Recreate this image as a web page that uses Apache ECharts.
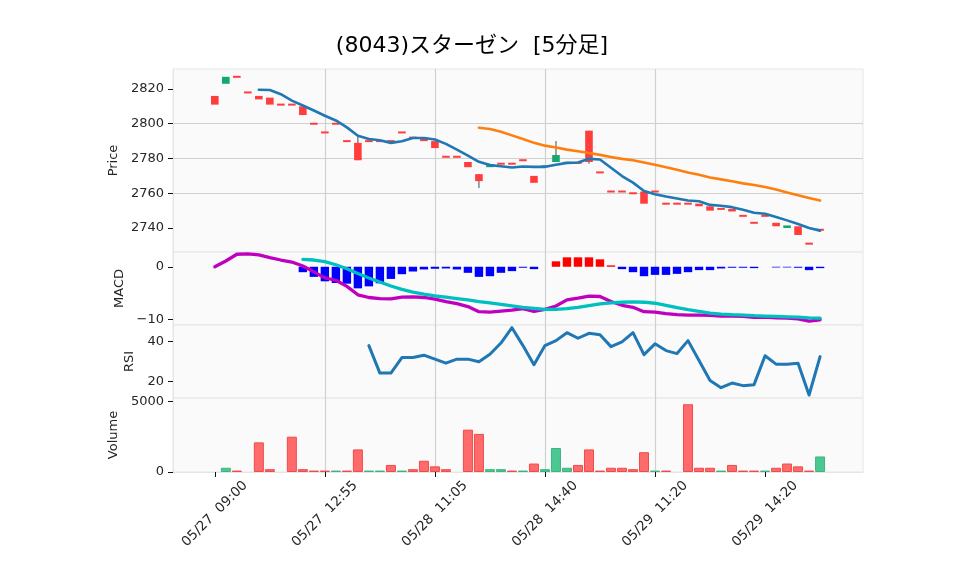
<!DOCTYPE html>
<html><head><meta charset="utf-8">
<script src="https://cdn.jsdelivr.net/npm/echarts@6/dist/echarts.min.js"></script>
<style>html,body{margin:0;padding:0;background:#fff}#c{width:958px;height:575px}</style>
</head><body><div id="c"></div>
<script>
const TITLE = '(8043)スターゼン  [5分足]';
const tickIndex = [0, 10, 20, 30, 40, 50];
const tickLabels = ['05/27  09:00', '05/27  12:55', '05/28  11:05', '05/28  14:40', '05/29  11:20', '05/29  14:20'];

const opens = [
  2811, 2827, 2827, 2818, 2814, 2811, 2811, 2811, 2805, 2800,
  2795, 2800, 2790, 2779, 2790, 2790, 2790, 2795, 2792, 2790,
  2786, 2781, 2781, 2775, 2767, 2776.5, 2777, 2777, 2779, 2766,
  2776, 2782, 2778, 2777, 2778, 2772, 2761, 2761, 2760, 2754,
  2761, 2754, 2754, 2754, 2752.5, 2750, 2751, 2749.5, 2747, 2743,
  2747, 2741, 2741.5, 2736, 2731, 2739];
const closes = [
  2816, 2823, 2827, 2818, 2816, 2815, 2811, 2811, 2810, 2800,
  2795, 2800, 2790, 2789, 2790, 2790, 2790, 2795, 2792, 2792,
  2790, 2781, 2781, 2778, 2771, 2775, 2777, 2777, 2779, 2770,
  2775, 2778, 2777, 2778, 2796, 2772, 2761, 2761, 2760, 2761,
  2761, 2754, 2754, 2754, 2754, 2752.5, 2751, 2751, 2747, 2743,
  2747, 2743, 2740, 2741, 2731, 2739];
const highs = [
  2816, 2827, 2827, 2818, 2816, 2815, 2811, 2811, 2810, 2800,
  2795, 2800, 2790, 2793, 2790, 2790, 2790, 2795, 2792, 2792,
  2790, 2781, 2781, 2778, 2771, 2776.5, 2777, 2777, 2779, 2770,
  2776, 2790, 2778, 2778, 2796, 2772, 2761, 2761, 2760, 2761,
  2761, 2754, 2754, 2754, 2754, 2752.5, 2751, 2751, 2747, 2743,
  2747, 2743, 2741.5, 2741, 2731, 2739];
const lows = [
  2811, 2823, 2827, 2818, 2814, 2811, 2811, 2811, 2805, 2800,
  2795, 2800, 2790, 2779, 2790, 2790, 2790, 2795, 2792, 2790,
  2786, 2781, 2781, 2775, 2763, 2775, 2777, 2777, 2779, 2766,
  2775, 2778, 2777, 2777, 2777, 2772, 2761, 2761, 2760, 2754,
  2761, 2754, 2754, 2754, 2752.5, 2750, 2751, 2749.5, 2747, 2743,
  2747, 2741, 2740, 2736, 2731, 2739];
const volumes = [
  0, 300, 100, 0, 2100, 200, 0, 2500, 200, 100,
  100, 100, 100, 1600, 100, 100, 500, 100, 200, 800,
  400, 200, 0, 3000, 2700, 200, 200, 100, 100, 600,
  200, 1700, 300, 500, 1600, 100, 300, 300, 200, 1400,
  100, 100, 0, 4800, 300, 300, 100, 500, 100, 100,
  100, 300, 600, 400, 100, 1100];
const volUp = [
  1, 0, 1, 1, 1, 1, 1, 1, 1, 1,
  1, 0, 1, 1, 0, 0, 1, 0, 1, 1,
  1, 1, 1, 1, 1, 0, 0, 1, 0, 1,
  0, 0, 0, 1, 1, 1, 1, 1, 1, 1,
  0, 1, 1, 1, 1, 1, 0, 1, 1, 1,
  0, 1, 1, 1, 1, 0];
const ma5 = [
  null, null, null, null, 2819.6, 2819.4, 2817, 2813.3, 2810.5, 2807.6,
  2804.6, 2801.9, 2797.9, 2793.1, 2791.2, 2790.5, 2789, 2789.9, 2791.8, 2791.8,
  2790.9, 2788.4, 2785.1, 2781.7, 2778.1, 2776.2, 2775.5, 2774.8, 2775.4, 2775.2,
  2775.2, 2776.4, 2777.5, 2777.7, 2779.8, 2779.4, 2774.7, 2769.9, 2766.1, 2761.3,
  2759.4, 2758.1, 2757, 2755.8, 2755.4, 2753.3, 2752.8, 2752, 2750.5, 2748.8,
  2748.2, 2746.3, 2744.4, 2742.3, 2740, 2738.5];
const ma25 = [
  null, null, null, null, null, null, null, null, null, null,
  null, null, null, null, null, null, null, null, null, null,
  null, null, null, null, 2797.7, 2797, 2795.4, 2793.3, 2791.2, 2789,
  2787.4, 2786.3, 2785.1, 2784.2, 2783.2, 2782.1, 2780.9, 2779.8, 2779, 2777.7,
  2776.4, 2775, 2773.5, 2772, 2770.7, 2769.1, 2768, 2766.9, 2765.7, 2764.8,
  2763.6, 2762.1, 2760.4, 2758.9, 2757.3, 2755.8];
const macd = [
  0, 1.09, 2.37, 2.44, 2.24, 1.73, 1.28, 0.9, 0.13, -0.96,
  -2.12, -2.56, -3.72, -5.32, -5.83, -6.03, -6.09, -5.77, -5.7, -5.83,
  -6.15, -6.6, -6.99, -7.56, -8.53, -8.59, -8.43, -8.24, -7.95, -8.46,
  -8.08, -7.44, -6.28, -5.96, -5.58, -5.64, -6.6, -7.31, -7.69, -8.53,
  -8.59, -8.91, -9.1, -9.17, -9.17, -9.23, -9.36, -9.36, -9.42, -9.62,
  -9.55, -9.68, -9.74, -9.87, -10.32, -10.06];
const signal = [
  null, null, null, null, null, null, null, null, 1.41, 1.28,
  0.96, 0.38, -0.38, -1.28, -2.12, -2.88, -3.65, -4.29, -4.81, -5.19,
  -5.51, -5.77, -6.03, -6.28, -6.6, -6.86, -7.12, -7.4, -7.69, -7.88,
  -8.08, -8.08, -7.95, -7.69, -7.37, -7.05, -6.86, -6.73, -6.67, -6.73,
  -6.92, -7.31, -7.76, -8.14, -8.46, -8.78, -8.97, -9.1, -9.17, -9.29,
  -9.36, -9.42, -9.49, -9.55, -9.68, -9.74];
const hist = [
  null, null, null, null, null, null, null, null, -1.03, -1.92,
  -2.76, -3.08, -3.21, -4.1, -3.72, -3.14, -2.31, -1.41, -0.9, -0.51,
  -0.38, -0.32, -0.51, -1.15, -1.92, -1.79, -1.15, -0.83, -0.19, -0.45,
  0, 1.03, 1.79, 1.79, 1.79, 1.41, 0.26, -0.45, -1.03, -1.79,
  -1.54, -1.54, -1.35, -1.03, -0.64, -0.64, -0.32, -0.19, -0.19, -0.26,
  0, -0.13, -0.13, -0.19, -0.64, -0.26];
const rsi = [
  null, null, null, null, null, null, null, null, null, null,
  null, null, null, null, 38.0, 24.2, 24.2, 32.0, 32.0, 33.2,
  31.2, 29.2, 31.2, 31.2, 29.9, 33.7, 39.3, 47.0, 38.0, 28.4,
  38.0, 40.5, 44.5, 41.7, 44.2, 43.5, 37.5, 39.9, 44.5, 33.5,
  38.9, 35.5, 34.0, 40.5, 30.5, 20.5, 16.9, 19.2, 17.9, 18.4,
  32.9, 28.7, 28.7, 29.2, 13.2, 32.5];

const priceTicks = [2740, 2760, 2780, 2800, 2820];
const macdTicks = [-10, 0];
const rsiTicks = [20, 40];
const volTicks = [0, 5000];

const FONT = "'DejaVu Sans', 'Noto Sans CJK JP', sans-serif";
const UP = '#ff3d3d', DOWN = '#14a86c';
const X_MIN = -3.8, X_MAX = 58.9;

const chart = echarts.init(document.getElementById('c'), null, {renderer: 'canvas'});

const toXY = arr => arr.map((v, i) => v == null ? null : [i, v]).filter(Boolean);
const candleData = opens.map((o, i) => [i, o, closes[i], lows[i], highs[i]]);

function renderCandle(params, api) {
  const i = api.value(0), o = api.value(1), c = api.value(2), lo = api.value(3), hi = api.value(4);
  const pO = api.coord([i, o]), pC = api.coord([i, c]);
  const pH = api.coord([i, hi]), pL = api.coord([i, lo]);
  const w = 7.6;
  const color = c >= o ? UP : DOWN;
  let y0 = Math.min(pO[1], pC[1]), h = Math.abs(pO[1] - pC[1]);
  if (h < 2) { y0 -= (2 - h) / 2; h = 2; }
  const children = [];
  if (hi > Math.max(o, c) || lo < Math.min(o, c)) {
    children.push({type: 'line', shape: {x1: pH[0], y1: pH[1], x2: pL[0], y2: pL[1]},
      style: {stroke: '#5a5a5a', lineWidth: 1.1}});
  }
  children.push({type: 'rect', shape: {x: pO[0] - w / 2, y: y0, width: w, height: h},
    style: {fill: color}});
  return {type: 'group', children};
}

const gridBase = {show: true, left: 173, right: 95, backgroundColor: '#fafafa', borderColor: '#e6e6e6', borderWidth: 1};
const grids = [
  Object.assign({top: 69, height: 183}, gridBase),
  Object.assign({top: 252, height: 73}, gridBase),
  Object.assign({top: 325, height: 73}, gridBase),
  Object.assign({top: 398, height: 74}, gridBase)
];
const splitStyle = {show: true, showMinLine: false, showMaxLine: false, lineStyle: {color: '#d0d0d0', width: 1.2}};
const labelStyle = {fontSize: 13, fontFamily: FONT, color: '#262626'};
const edgeLine = {show: true, onZero: false, lineStyle: {color: '#e6e6e6', width: 1}};

const xAxes = [0, 1, 2, 3].map(k => ({
  type: 'value', gridIndex: k, min: X_MIN, max: X_MAX, splitNumber: 6,
  axisLine: k === 3 ? edgeLine : {show: false, onZero: false},
  axisTick: {show: k === 3, customValues: tickIndex, length: 5, lineStyle: {color: '#111', width: 1}},
  axisLabel: Object.assign({}, labelStyle, {
    show: k === 3, customValues: tickIndex, fontSize: 13.5,
    formatter: v => { const j = tickIndex.indexOf(v); return j >= 0 ? tickLabels[j] : ''; },
    rotate: 45, align: 'center', verticalAlign: 'middle', margin: 42
  }),
  splitLine: splitStyle
}));

function yAxis(k, min, max, splitNumber, ticks, name, nameGap) {
  return {
    type: 'value', gridIndex: k, min, max, splitNumber,
    name, nameLocation: 'middle', nameGap,
    nameTextStyle: {fontSize: 13, fontFamily: FONT, color: '#262626'},
    axisLine: edgeLine,
    axisTick: {show: true, customValues: ticks, length: 5, lineStyle: {color: '#111', width: 1}},
    axisLabel: Object.assign({customValues: ticks, margin: 9,
      formatter: v => String(v).replace('-', '\u2212')}, labelStyle),
    splitLine: splitStyle
  };
}

const option = {
  animation: false,
  backgroundColor: '#ffffff',
  title: {text: TITLE, left: 467, top: 30, textAlign: 'center',
    textStyle: {fontFamily: FONT, fontSize: 22, fontWeight: 'normal', color: '#000'}},
  grid: grids,
  xAxis: xAxes,
  yAxis: [
    yAxis(0, 2726.2, 2831.5, 5, priceTicks, 'Price', 49),
    yAxis(1, -11.05, 2.8, 1, macdTicks, 'MACD', 40),
    yAxis(2, 11.7, 48.35, 2, rsiTicks, 'RSI', 32),
    yAxis(3, 0, 5243, 1, volTicks, 'Volume', 49)
  ],
  series: [
    {type: 'custom', xAxisIndex: 0, yAxisIndex: 0, renderItem: renderCandle, data: candleData,
      encode: {x: 0, y: [1, 2, 3, 4]}, clip: true, z: 2},
    {type: 'line', xAxisIndex: 0, yAxisIndex: 0, data: toXY(ma5), showSymbol: false, z: 4,
      lineStyle: {color: '#1f77b4', width: 2.6, join: 'round', cap: 'round'}},
    {type: 'line', xAxisIndex: 0, yAxisIndex: 0, data: toXY(ma25), showSymbol: false, z: 4,
      lineStyle: {color: '#ff7f0e', width: 2.6, join: 'round', cap: 'round'}},
    {type: 'bar', xAxisIndex: 1, yAxisIndex: 1, barWidth: 8.4, z: 2,
      data: hist.map((v, i) => (v == null || v === 0) ? null : {value: [i, v], itemStyle: {color: v > 0 ? '#ff0000' : '#0000ff'}}).filter(Boolean)},
    {type: 'line', xAxisIndex: 1, yAxisIndex: 1, data: toXY(macd), showSymbol: false, z: 4,
      lineStyle: {color: '#bf00bf', width: 3.3, join: 'round', cap: 'round'}},
    {type: 'line', xAxisIndex: 1, yAxisIndex: 1, data: toXY(signal), showSymbol: false, z: 4,
      lineStyle: {color: '#00bfbf', width: 3.3, join: 'round', cap: 'round'}},
    {type: 'line', xAxisIndex: 2, yAxisIndex: 2, data: toXY(rsi), showSymbol: false, z: 4,
      lineStyle: {color: '#1f77b4', width: 3, join: 'round', cap: 'round'}},
    {type: 'bar', xAxisIndex: 3, yAxisIndex: 3, barWidth: 10, z: 2,
      data: volumes.map((v, i) => v === 0 ? null : ({value: [i, v], itemStyle: volUp[i]
        ? {color: '#ff6b6b', borderColor: '#f04a4a', borderWidth: 1}
        : {color: '#4bc791', borderColor: '#3cb57f', borderWidth: 1}})).filter(Boolean)}
  ]
};
chart.setOption(option);
</script>
</body></html>
